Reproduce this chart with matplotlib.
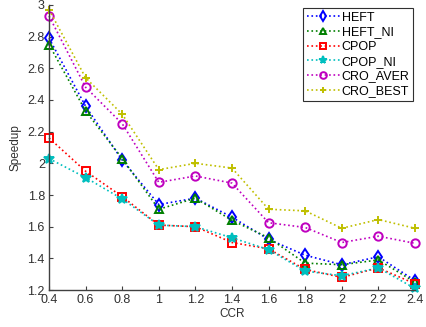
import numpy as np
import matplotlib
matplotlib.use('Agg')
import matplotlib.pyplot as plt

plt.rcParams['font.family'] = ['Liberation Sans', 'DejaVu Sans']

# ------------------------------------------------------------
# Data
# ------------------------------------------------------------
ccr = [0.4, 0.6, 0.8, 1.0, 1.2, 1.4, 1.6, 1.8, 2.0, 2.2, 2.4]

heft     = [2.79, 2.36, 2.02, 1.74, 1.78, 1.66, 1.52, 1.42, 1.36, 1.41, 1.26]
heft_ni  = [2.75, 2.33, 2.03, 1.71, 1.78, 1.64, 1.53, 1.37, 1.36, 1.39, 1.25]
cpop     = [2.16, 1.95, 1.79, 1.61, 1.60, 1.50, 1.46, 1.33, 1.28, 1.34, 1.24]
cpop_ni  = [2.03, 1.91, 1.775, 1.61, 1.60, 1.53, 1.455, 1.32, 1.29, 1.34, 1.21]
cro_aver = [2.93, 2.48, 2.25, 1.88, 1.92, 1.875, 1.625, 1.595, 1.50, 1.54, 1.495]
cro_best = [2.97, 2.54, 2.31, 1.96, 2.00, 1.97, 1.71, 1.70, 1.59, 1.645, 1.59]

names = ['HEFT', 'HEFT_NI', 'CPOP', 'CPOP_NI', 'CRO_AVER', 'CRO_BEST']
series = [heft, heft_ni, cpop, cpop_ni, cro_aver, cro_best]
colors = ['#0000ff', '#007f00', '#ff0000', '#00bfbf', '#bf00bf', '#bfbf00']
markers = ['d', '^', 's', '*', 'o', '+']

# ------------------------------------------------------------
# Plot
# ------------------------------------------------------------
fig = plt.figure(figsize=(4.27, 3.27), dpi=100)
ax = fig.add_axes([0.1148, 0.113, 0.857, 0.872])

for name, y, c, m in zip(names, series, colors, markers):
    filled = m == '*'
    ax.plot(ccr, y, linestyle=':', color=c, marker=m, markersize=6 if m != '*' else 7,
            markerfacecolor=c if filled else 'none', markeredgecolor=c,
            markeredgewidth=1.4, linewidth=1.2, label=name, clip_on=False)

ax.set_xlim(0.4, 2.4)
ax.set_ylim(1.2, 3.0)
ax.set_xticks(np.arange(0.4, 2.41, 0.2))
ax.set_xticklabels(['0.4', '0.6', '0.8', '1', '1.2', '1.4', '1.6', '1.8', '2', '2.2', '2.4'])
ax.set_yticks(np.arange(1.2, 3.01, 0.2))
ax.set_yticklabels(['1.2', '1.4', '1.6', '1.8', '2', '2.2', '2.4', '2.6', '2.8', '3'])
ax.tick_params(direction='in', length=3, labelsize=9, color='#404040', labelcolor='#303030')
ax.tick_params(axis='x', pad=3)
ax.tick_params(axis='y', pad=3)

ax.spines['top'].set_visible(False)
ax.spines['right'].set_visible(False)
for s in ('left', 'bottom'):
    ax.spines[s].set_color('#404040')
    ax.spines[s].set_linewidth(1.0)

ax.set_xlabel('CCR', fontsize=8.5, color='#303030', labelpad=1)
ax.set_ylabel('Speedup', fontsize=8.5, color='#303030', labelpad=4)

leg = ax.legend(loc='upper right', bbox_to_anchor=(0.995, 0.99), fontsize=9,
                fancybox=False, framealpha=1, edgecolor='#303030',
                borderpad=0.3, labelspacing=0.22, handlelength=2.7, handletextpad=0.1,
                borderaxespad=0, markerscale=0.8)
leg.get_frame().set_linewidth(0.8)

fig.savefig('out.png', dpi=100)
